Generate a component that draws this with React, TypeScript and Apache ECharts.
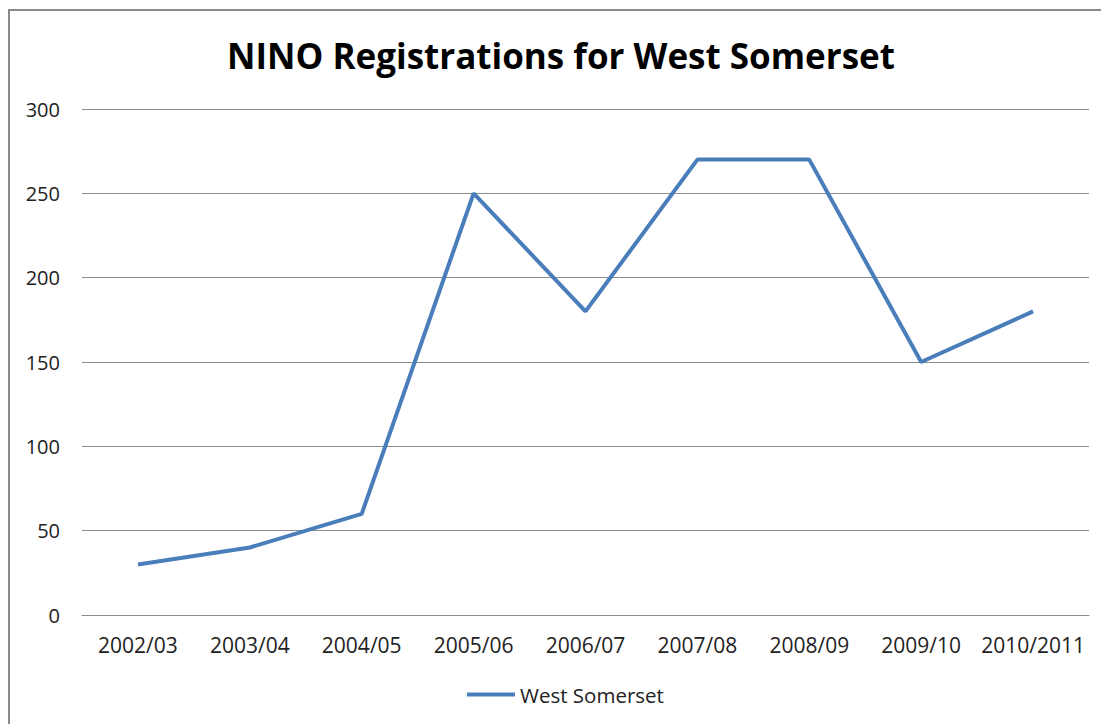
import React, { useEffect, useRef } from "react";
import * as echarts from "echarts";

const categories = ["2002/03", "2003/04", "2004/05", "2005/06", "2006/07", "2007/08", "2008/09", "2009/10", "2010/2011"];
const westSomerset = [30, 40, 60, 250, 180, 270, 270, 150, 180];
const titleText = "NINO Registrations for West Somerset";
const seriesName = "West Somerset";

export default function App() {
  const ref = useRef<HTMLDivElement>(null);
  useEffect(() => {
    if (!ref.current) return;
    const chart = echarts.init(ref.current, null, { renderer: "svg" });
    const font = "'Open Sans', sans-serif";
    chart.setOption({
      animation: false,
      backgroundColor: "#ffffff",
      title: {
        text: titleText,
        left: 222,
        top: 33,
        textStyle: { fontFamily: font, fontWeight: "bold", fontSize: 35, color: "#000000" },
      },
      graphic: [
        {
          type: "rect",
          shape: { x: 9, y: 10, width: 1200, height: 800 },
          style: { fill: "none", stroke: "#8a8a8a", lineWidth: 2 },
          silent: true,
        },
      ],
      legend: {
        bottom: 14,
        left: 462,
        data: [seriesName],
        icon: "rect",
        itemWidth: 48,
        itemHeight: 4,
        itemGap: 3,
        textStyle: { fontFamily: font, fontSize: 20.5, color: "#222" },
      },
      grid: { left: 82, right: 12, top: 109, bottom: 109 },
      xAxis: {
        type: "category",
        data: categories,
        boundaryGap: true,
        axisLine: { show: true, lineStyle: { color: "#8c8c8c", width: 1 } },
        axisTick: { show: false },
        axisLabel: { fontFamily: font, fontSize: 21, color: "#222", margin: 19, interval: 0 },
      },
      yAxis: {
        type: "value",
        min: 0,
        max: 300,
        interval: 50,
        axisLine: { show: false },
        axisTick: { show: false },
        splitLine: { lineStyle: { color: "#8c8c8c", width: 1 } },
        axisLabel: { fontFamily: font, fontSize: 20, color: "#222", margin: 22 },
      },
      series: [
        {
          name: seriesName,
          type: "line",
          data: westSomerset,
          symbol: "none",
          lineStyle: { color: "#4a7ebb", width: 4 },
          itemStyle: { color: "#4a7ebb" },
        },
      ],
    });
    return () => chart.dispose();
  }, []);
  return <div ref={ref} style={{ position: "absolute", left: 0, top: 0, width: 1101, height: 724 }} />;
}
